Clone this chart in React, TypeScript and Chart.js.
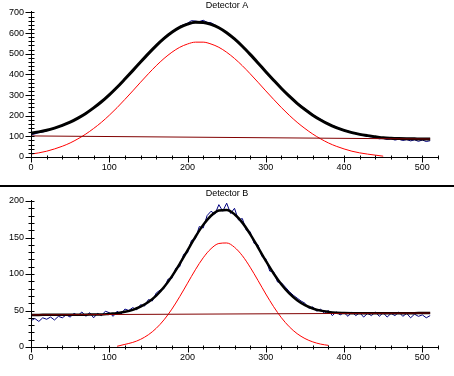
import React, { useEffect, useRef } from "react";
import { Chart, registerables } from "chart.js";

Chart.register(...registerables);

const range = (a: number, b: number, s: number) => {
  const r: number[] = [];
  for (let v = a; v <= b; v += s) r.push(v);
  return r;
};

// ---- sample positions (channel numbers) ----
const X_FINE = range(0, 510, 5);
const X_CURVE = range(0, 510, 10);
const X_RED_A = range(0, 450, 10);
const X_RED_B = range(110, 380, 10);
const X_BASE = [0, 510];

// ---- Detector A ----
const baseA = [102, 87];
const redA = [14, 20, 28, 39, 52, 68, 88, 111, 138, 168, 202, 239, 279, 320, 362, 403, 442, 477, 507, 531, 547, 556, 556, 547, 531, 507, 477, 442, 403, 362, 320, 279, 239, 202, 168, 138, 111, 88, 68, 52, 39, 28, 20, 14, 9, 4];
const fitA = [116, 121.7, 129.4, 140.1, 152.8, 168.5, 188.2, 210.9, 237.6, 267.4, 301.1, 337.8, 377.5, 418.2, 459.9, 500.6, 539.3, 574.0, 603.7, 627.4, 643.1, 651.8, 651.5, 642.2, 625.9, 601.6, 571.4, 536.1, 496.8, 455.5, 413.2, 371.9, 331.6, 294.3, 260.0, 229.7, 202.4, 179.1, 158.8, 142.5, 129.2, 117.9, 109.6, 103.4, 98.1, 92.8, 90.5, 89.2, 88.4, 87.9, 87.4, 87.0];
const blueA = [108, 112, 118, 121, 127, 133, 138, 147, 150, 161, 166, 179, 186, 198, 212, 221, 238, 249, 268, 281, 303, 316, 339, 355, 379, 394, 421, 436, 463, 476, 504, 517, 543, 553, 579, 586, 609, 612, 633, 640, 648, 660, 658, 655, 662, 652, 650, 639, 628, 612, 604, 584, 573, 550, 538, 513, 499, 472, 458, 430, 416, 389, 375, 349, 335, 316, 297, 281, 264, 249, 234, 220, 206, 193, 183, 172, 162, 153, 146, 137, 130, 126, 119, 112, 110, 104, 100, 97, 93, 88, 90, 85, 88, 82, 86, 80, 84, 78, 83, 76, 82, 75, 79];

// ---- Detector B ----
const baseB = [44, 46.5];
const redB = [1.0, 3.6, 6.3, 10.5, 16.8, 25.6, 37.3, 51.9, 69.0, 87.4, 105.8, 122.2, 134.7, 141.8, 142.5, 136.6, 125.1, 109.3, 91.2, 72.6, 55.2, 40.0, 27.7, 18.3, 11.6, 7.0, 4.0, 2.2];
const fitB = [44.0, 44.0, 44.1, 44.1, 44.2, 44.2, 44.3, 44.3, 44.4, 44.4, 45.5, 46.4, 48.2, 50.9, 55.2, 61.5, 70.4, 82.1, 96.8, 113.9, 132.4, 150.8, 167.3, 179.8, 187.0, 187.7, 181.9, 170.4, 154.7, 136.6, 118.1, 100.7, 85.6, 73.3, 64.0, 57.3, 52.8, 49.8, 48.1, 47.0, 46.6, 46.3, 46.1, 46.1, 46.2, 46.2, 46.3, 46.3, 46.4, 46.4, 46.5, 46.5];
const blueB = [36, 39, 35, 40, 38, 41, 37, 42, 40, 44, 41, 46, 43, 48, 42, 47, 40, 46, 43, 49, 47, 42, 49, 45, 52, 50, 54, 51, 58, 56, 65, 63, 74, 78, 80, 93, 94, 108, 110, 127, 129, 146, 148, 165, 163, 180, 186, 182, 195, 186, 197, 183, 190, 174, 176, 160, 158, 142, 140, 124, 121, 104, 103, 89, 88, 82, 76, 71, 67, 63, 60, 53, 55, 49, 52, 46, 50, 43, 48, 44, 47, 42, 48, 43, 47, 41, 46, 43, 48, 42, 47, 41, 46, 43, 48, 42, 46, 40, 45, 42, 44, 40, 43];

const X_MAX = 520;
const X_STEP = 20;
const X_LABEL_STEP = 100;

const FONT = "Liberation Sans";

const zip = (xs: number[], ys: number[]) => ys.map((y, i) => ({ x: xs[i], y }));

function makeOverlay(title: string, xLabelStep: number, yLabelStep: number) {
  return {
    id: "overlay",
    afterDraw(chart: any) {
      const { ctx, chartArea, scales } = chart;
      const xs = scales.x;
      const ys = scales.y;
      const lx = Math.round(chartArea.left) + 0.5;
      const by = Math.round(chartArea.bottom) + 0.5;
      ctx.save();
      ctx.strokeStyle = "#000";
      ctx.lineWidth = 1;
      ctx.beginPath();
      ctx.moveTo(lx, Math.round(chartArea.top) - 1);
      ctx.lineTo(lx, by);
      ctx.moveTo(lx, by);
      ctx.lineTo(Math.round(chartArea.right) + 1, by);
      for (const t of ys.ticks) {
        const p = Math.round(ys.getPixelForValue(t.value)) + 0.5;
        const major = t.value % yLabelStep === 0;
        ctx.moveTo(lx - (major ? 6 : 3), p);
        ctx.lineTo(lx + 3, p);
      }
      for (const t of xs.ticks) {
        const p = Math.round(xs.getPixelForValue(t.value)) + 0.5;
        const major = t.value % xLabelStep === 0;
        ctx.moveTo(p, by - 2);
        ctx.lineTo(p, by + (major ? 5 : 2));
      }
      ctx.stroke();
      ctx.fillStyle = "#000";
      ctx.font = `9px "${FONT}"`;
      ctx.textAlign = "center";
      ctx.textBaseline = "middle";
      ctx.fillText(title, chart.width / 2, chartArea.top - 7);
      ctx.restore();
    },
  };
}

type PanelProps = {
  title: string;
  width: number;
  height: number;
  padTop: number;
  xAxisH: number;
  yMax: number;
  yStep: number;
  yLabelStep: number;
  fitWidth: number;
  base: number[];
  redX: number[];
  red: number[];
  fit: number[];
  blue: number[];
};

function Panel(p: PanelProps) {
  const ref = useRef<HTMLCanvasElement | null>(null);
  useEffect(() => {
    if (!ref.current) return;
    const common = { pointRadius: 0, fill: false, clip: 4 } as any;
    const chart = new Chart(ref.current, {
      type: "line",
      data: {
        datasets: [
          { ...common, label: "Baseline", data: zip(X_BASE, p.base), borderColor: "#800000", borderWidth: 1 },
          { ...common, label: "Peak", data: zip(p.redX, p.red), borderColor: "#ff0000", borderWidth: 1, cubicInterpolationMode: "monotone" },
          { ...common, label: "Fit", data: zip(X_CURVE, p.fit), borderColor: "#000000", borderWidth: p.fitWidth, cubicInterpolationMode: "monotone" },
          { ...common, label: "Data", data: zip(X_FINE, p.blue), borderColor: "#000080", borderWidth: 1 },
        ],
      },
      options: {
        animation: false,
        responsive: false,
        events: [],
        layout: { padding: { top: p.padTop, right: 16, left: 0, bottom: 0 } },
        plugins: { legend: { display: false }, tooltip: { enabled: false }, title: { display: false } },
        scales: {
          x: {
            type: "linear",
            min: 0,
            max: X_MAX,
            grid: { display: false, drawTicks: false },
            border: { display: false },
            ticks: {
              stepSize: X_STEP,
              maxTicksLimit: 1000,
              autoSkip: false,
              maxRotation: 0,
              padding: 5,
              color: "#000",
              font: { family: FONT, size: 9 },
              callback: (v: any) => (Number(v) % X_LABEL_STEP === 0 ? String(v) : ""),
            },
            afterFit: (s: any) => {
              s.height = p.xAxisH;
            },
          },
          y: {
            type: "linear",
            min: 0,
            max: p.yMax,
            grid: { display: false, drawTicks: false },
            border: { display: false },
            ticks: {
              stepSize: p.yStep,
              maxTicksLimit: 1000,
              autoSkip: false,
              padding: 7,
              color: "#000",
              font: { family: FONT, size: 9 },
              callback: (v: any) => (Number(v) % p.yLabelStep === 0 ? String(v) : ""),
            },
            afterFit: (s: any) => {
              s.width = 31;
            },
          },
        },
      },
      plugins: [makeOverlay(p.title, X_LABEL_STEP, p.yLabelStep)],
    } as any);
    return () => chart.destroy();
  }, []);
  return <canvas ref={ref} width={p.width} height={p.height} style={{ display: "block" }} />;
}

export default function App() {
  return (
    <div style={{ position: "absolute", left: 0, top: 0, width: 454, height: 376, background: "#fff", overflow: "hidden" }}>
      <div style={{ position: "absolute", left: 0, top: 0 }}>
        <Panel title="Detector A" width={454} height={183} padTop={12} xAxisH={26} yMax={700} yStep={20} yLabelStep={100}
          fitWidth={3} base={baseA} redX={X_RED_A} red={redA} fit={fitA} blue={blueA} />
      </div>
      <div style={{ position: "absolute", left: 0, top: 185, width: 454, height: 2, background: "#000" }} />
      <div style={{ position: "absolute", left: 0, top: 187 }}>
        <Panel title="Detector B" width={454} height={189} padTop={14} xAxisH={29} yMax={200} yStep={10} yLabelStep={50}
          fitWidth={2.5} base={baseB} redX={X_RED_B} red={redB} fit={fitB} blue={blueB} />
      </div>
    </div>
  );
}
